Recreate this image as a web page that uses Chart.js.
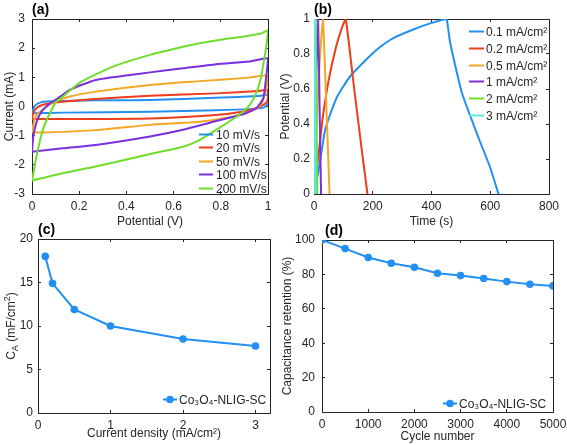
<!DOCTYPE html>
<html>
<head>
<meta charset="utf-8">
<script src="https://cdn.jsdelivr.net/npm/chart.js@4.4.0/dist/chart.umd.min.js"></script>
<style>
  html, body { margin: 0; padding: 0; background: #fff; }
  body { width: 567px; height: 445px; position: relative; overflow: hidden; }
  .panel { position: absolute; }
</style>
</head>
<body>
<div class="panel" style="left:0;top:0;width:283px;height:229px"><canvas id="chartA"></canvas></div>
<div class="panel" style="left:277px;top:0;width:290px;height:229px"><canvas id="chartB"></canvas></div>
<div class="panel" style="left:0;top:222px;width:283px;height:219px"><canvas id="chartC"></canvas></div>
<div class="panel" style="left:277px;top:222px;width:290px;height:222px"><canvas id="chartD"></canvas></div>
<script>
// (a) cyclic voltammetry loops: [potential (V), current (mA)], upper branch then lower branch
const scanRates = ['10 mV/s', '20 mV/s', '50 mV/s', '100 mV/s', '200 mV/s'];
const cv10 = [[0,-0.23],[0.004,-0.12],[0.012,0.03],[0.04,0.15],[0.08,0.18],[0.27,0.21],[0.5,0.22],[0.78,0.3],[0.96,0.36],[1,0.4],
              [1,0.11],[0.98,-0.04],[0.92,-0.09],[0.78,-0.13],[0.5,-0.18],[0.13,-0.21],[0,-0.23]];
const cv20 = [[0,-0.43],[0.005,-0.23],[0.02,-0.04],[0.05,0.07],[0.1,0.14],[0.27,0.26],[0.5,0.37],[0.78,0.45],[0.96,0.53],[1,0.57],
              [1,0.28],[0.99,0.11],[0.95,-0.06],[0.89,-0.18],[0.78,-0.29],[0.5,-0.41],[0.13,-0.43],[0,-0.43]];
const cv50 = [[0,-0.89],[0.008,-0.52],[0.02,-0.29],[0.048,-0.09],[0.09,0.14],[0.16,0.34],[0.27,0.51],[0.5,0.74],[0.71,0.87],[0.92,0.99],[1,1.06],
              [0.995,0.7],[0.985,0.39],[0.97,0.05],[0.92,-0.18],[0.85,-0.35],[0.71,-0.52],[0.5,-0.63],[0.27,-0.81],[0.06,-0.89],[0,-0.89]];
const cv100 = [[0,-1.55],[0.006,-0.98],[0.02,-0.52],[0.04,-0.18],[0.076,0.1],[0.12,0.34],[0.16,0.57],[0.27,0.91],[0.415,1.08],[0.5,1.17],[0.64,1.31],[0.78,1.45],[0.92,1.54],[1,1.65],
               [0.995,1.2],[0.99,0.85],[0.98,0.28],[0.95,-0.06],[0.9,-0.25],[0.85,-0.36],[0.78,-0.5],[0.64,-0.8],[0.5,-1.03],[0.27,-1.32],[0.13,-1.43],[0,-1.55]];
const cv200 = [[0,-2.54],[0.02,-1.66],[0.048,-0.75],[0.097,0.1],[0.147,0.45],[0.2,0.8],[0.27,1.1],[0.36,1.42],[0.5,1.77],[0.6,1.97],[0.7,2.15],[0.8,2.29],[0.9,2.4],[0.97,2.5],[1,2.6],
               [0.987,1.77],[0.966,0.85],[0.94,0.28],[0.91,-0.06],[0.867,-0.35],[0.78,-0.8],[0.71,-1.15],[0.64,-1.38],[0.5,-1.63],[0.42,-1.78],[0.27,-2.06],[0.13,-2.29],[0,-2.54]];

// (b) galvanostatic charge/discharge: [time (s), potential (V)]
const currentDensities = ['0.1 mA/cm²', '0.2 mA/cm²', '0.5 mA/cm²', '1 mA/cm²', '2 mA/cm²', '3 mA/cm²'];
const gcd01 = [[0,0],[5,0.05],[15,0.13],[20,0.18],[37,0.36],[54,0.45],[80,0.56],[122,0.67],[191,0.79],[225,0.84],[259,0.88],[281,0.9],[338,0.94],[395,0.975],[448,1],
               [452,1],[463,0.87],[480,0.74],[503,0.58],[531,0.45],[565,0.3],[600,0.15],[628,0]];
const gcd02 = [[0,0],[5,0.08],[15,0.22],[30,0.44],[50,0.65],[75,0.84],[95,0.95],[108,1],[134,0.64],[162,0.26],[182,0]];
const gcd05 = [[0,0],[4,0.2],[10,0.45],[18,0.72],[26,0.92],[31,1],[42,0.5],[53,0]];
const gcd1 = [[0,0],[3,0.3],[8,0.7],[14,1],[19,0.5],[24,0]];
const gcd2 = [[0,0],[2,0.4],[6,1],[8.5,0.5],[11,0]];
const gcd3 = [[0,0],[1,0.4],[3,1],[4,0.5],[5,0]];

// (c) areal capacitance vs current density
const densities = [0.1, 0.2, 0.5, 1, 2, 3];
const capacitance = [18.0, 14.9, 11.9, 10.0, 8.5, 7.7];

// (d) cycling stability
const cycles = [0, 500, 1000, 1500, 2000, 2500, 3000, 3500, 4000, 4500, 5000];
const retention = [100, 95.0, 89.8, 86.5, 84.1, 80.7, 79.3, 77.6, 75.8, 74.3, 73.3];

// tick values
const ticksAX = [0, 0.2, 0.4, 0.6, 0.8, 1];
const ticksAY = [-3, -2, -1, 0, 1, 2, 3];
const ticksBX = [0, 200, 400, 600, 800];
const ticksBY = [0, 0.2, 0.4, 0.6, 0.8, 1];
const ticksCX = [0, 1, 2, 3];
const ticksCY = [0, 5, 10, 15, 20];
const ticksDX = [0, 1000, 2000, 3000, 4000, 5000];
const ticksDY = [0, 20, 40, 60, 80, 100];

const colors = ['#2290f2', '#ee3d1b', '#f6a623', '#7a2fe0', '#6fdd2c', '#55ebdf'];
const FONT = "'Liberation Sans', Arial, Helvetica, sans-serif";
const INK = '#262626';
Chart.defaults.font.family = FONT;
Chart.defaults.font.size = 12;
Chart.defaults.color = INK;
Chart.defaults.animation = false;

// panel letter, inset legend and rich y title, positioned relative to the chart area
const decorations = {
    id: 'decorations',
    afterDraw(chart, args, opts) {
        const { ctx, chartArea: a } = chart;
        ctx.save();
        ctx.fillStyle = '#000';
        ctx.font = 'bold 14px ' + FONT;
        ctx.textBaseline = 'alphabetic';
        ctx.fillText(opts.letter, a.left + opts.letterDx, a.top - 5);

        const lg = opts.legend;
        ctx.font = '12px ' + FONT;
        ctx.textBaseline = 'middle';
        chart.data.datasets.forEach((ds, i) => {
            const y = Math.round(a.top + lg.y + i * lg.rowH) + 0.5;
            const x = a.left + lg.x;
            ctx.strokeStyle = ds.borderColor;
            ctx.lineWidth = 2;
            ctx.beginPath();
            ctx.moveTo(x, y); ctx.lineTo(x + lg.len, y);
            ctx.stroke();
            if (lg.marker) {
                ctx.fillStyle = ds.borderColor;
                ctx.beginPath();
                ctx.arc(x + lg.len / 2, y, 3.8, 0, Math.PI * 2);
                ctx.fill();
            }
            ctx.fillStyle = INK;
            ctx.fillText(ds.label, x + lg.len + lg.gap, y + 1);
        });

        const rich = opts.richY;
        if (rich && rich.parts) {
            ctx.save();
            ctx.translate(a.left - rich.dx, (a.top + a.bottom) / 2);
            ctx.rotate(-Math.PI / 2);
            let total = 0;
            rich.parts.forEach(p => { ctx.font = p.size + 'px ' + FONT; total += ctx.measureText(p.t).width; });
            let x = -total / 2;
            rich.parts.forEach(p => {
                ctx.font = p.size + 'px ' + FONT;
                ctx.fillText(p.t, x, p.shift);
                x += ctx.measureText(p.t).width;
            });
            ctx.restore();
        }
        ctx.restore();
    }
};

function fitTo(size) {
    return function (scale) {
        if (scale.isHorizontal()) scale.height = size; else scale.width = size;
        scale.paddingLeft = scale.paddingRight = scale.paddingTop = scale.paddingBottom = 0;
    };
}
function fixedTicks(values) {
    return function (scale) { scale.ticks = values.map(v => ({ value: v })); };
}
function fmt(v) { return String(+Number(v).toFixed(2)); }

// a box axis: border line plus 3px inward tick marks (negative tick length)
function boxAxis(position, range, ticks, size, labels, pad, title) {
    return {
        type: 'linear', position: position, min: range[0], max: range[1],
        afterBuildTicks: fixedTicks(ticks), afterFit: fitTo(size),
        grid: { display: true, drawOnChartArea: false, drawTicks: true, tickLength: -3, color: INK, lineWidth: 1 },
        border: { display: true, color: INK, width: 1 },
        ticks: { display: labels, padding: pad + 3, maxRotation: 0, autoSkip: false, callback: fmt },
        title: { display: !!title, text: title || '', padding: 0 }
    };
}

function makeChart(id, cfg) {
    return new Chart(document.getElementById(id), {
        type: 'scatter',
        data: { datasets: cfg.datasets },
        options: {
            responsive: true,
            maintainAspectRatio: false,
            layout: { padding: cfg.padding },
            elements: { point: { radius: 0 } },
            scales: {
                x: boxAxis('bottom', cfg.xr, cfg.xticks, cfg.xh, true, 5, cfg.xtitle),
                y: boxAxis('left', cfg.yr, cfg.yticks, cfg.yw, true, cfg.ypad, cfg.ytitle),
                x2: boxAxis('top', cfg.xr, cfg.xticks, 0, false, 0, ''),
                y2: boxAxis('right', cfg.yr, cfg.yticks, 0, false, 0, '')
            },
            plugins: {
                legend: { display: false },
                tooltip: { enabled: false },
                decorations: { letter: cfg.letter, letterDx: cfg.letterDx || 0, legend: cfg.legend, richY: cfg.richY || null }
            }
        },
        plugins: [decorations]
    });
}

function lineSet(label, pts, i, n) {
    return {
        label: label,
        data: pts.map(p => ({ x: p[0], y: p[1] })),
        showLine: true,
        borderColor: colors[i],
        backgroundColor: colors[i],
        borderWidth: 2,
        tension: 0.2,
        pointRadius: 0,
        order: n - i
    };
}

// (a)
const cvSets = [cv10, cv20, cv50, cv100, cv200];
makeChart('chartA', {
    datasets: cvSets.map((s, i) => lineSet(scanRates[i], s, i, cvSets.length)),
    padding: { left: 2, top: 19, right: 15, bottom: 0 },
    xr: [0, 1], yr: [-3, 3], xticks: ticksAX, yticks: ticksAY,
    xh: 35, yw: 30, ypad: 7,
    xtitle: 'Potential (V)', ytitle: 'Current (mA)',
    letter: '(a)',
    legend: { x: 167, y: 114.5, rowH: 13.6, len: 14, gap: 3 }
});

// (b)
const gcdSets = [gcd01, gcd02, gcd05, gcd1, gcd2, gcd3];
makeChart('chartB', {
    datasets: gcdSets.map((s, i) => Object.assign(lineSet(currentDensities[i], s, i, gcdSets.length), { tension: 0.15 })),
    padding: { left: 1, top: 19, right: 18, bottom: 0 },
    xr: [0, 800], yr: [0, 1], xticks: ticksBX, yticks: ticksBY,
    xh: 35, yw: 36, ypad: 4,
    xtitle: 'Time (s)', ytitle: 'Potential (V)',
    letter: '(b)',
    legend: { x: 155, y: 11.7, rowH: 16.9, len: 15, gap: 2 }
});

// (c)
makeChart('chartC', {
    datasets: [{
        label: 'Co₃O₄-NLIG-SC',
        data: densities.map((d, i) => ({ x: d, y: capacitance[i] })),
        showLine: true, borderColor: colors[0], backgroundColor: colors[0],
        borderWidth: 2, pointRadius: 3.8, pointBorderWidth: 0
    }],
    padding: { left: 5, top: 17, right: 13, bottom: 0 },
    xr: [0, 3.2], yr: [0, 20], xticks: ticksCX, yticks: ticksCY,
    xh: 28, yw: 33, ypad: 5,
    xtitle: 'Current density (mA/cm²)', ytitle: '',
    letter: '(c)',
    legend: { x: 125, y: 160, rowH: 14, len: 14, gap: 2, marker: true },
    richY: { dx: 26, parts: [
        { t: 'C', size: 12, shift: 0 }, { t: 'A', size: 9, shift: 4 },
        { t: ' (mF/cm', size: 12, shift: 0 }, { t: '2', size: 9, shift: -4 }, { t: ')', size: 12, shift: 0 }
    ] }
});

// (d)
makeChart('chartD', {
    datasets: [{
        label: 'Co₃O₄-NLIG-SC',
        data: cycles.map((c, i) => ({ x: c, y: retention[i] })),
        showLine: true, borderColor: colors[0], backgroundColor: colors[0],
        borderWidth: 2, pointRadius: 3.8, pointBorderWidth: 0
    }],
    padding: { left: 3, top: 18, right: 14, bottom: 0 },
    xr: [0, 5000], yr: [0, 100], xticks: ticksDX, yticks: ticksDY,
    xh: 32, yw: 42, ypad: 7,
    xtitle: 'Cycle number', ytitle: 'Capacitance retention (%)',
    letter: '(d)', letterDx: 3,
    legend: { x: 121, y: 163, rowH: 14, len: 14, gap: 2, marker: true }
});
</script>
</body>
</html>
